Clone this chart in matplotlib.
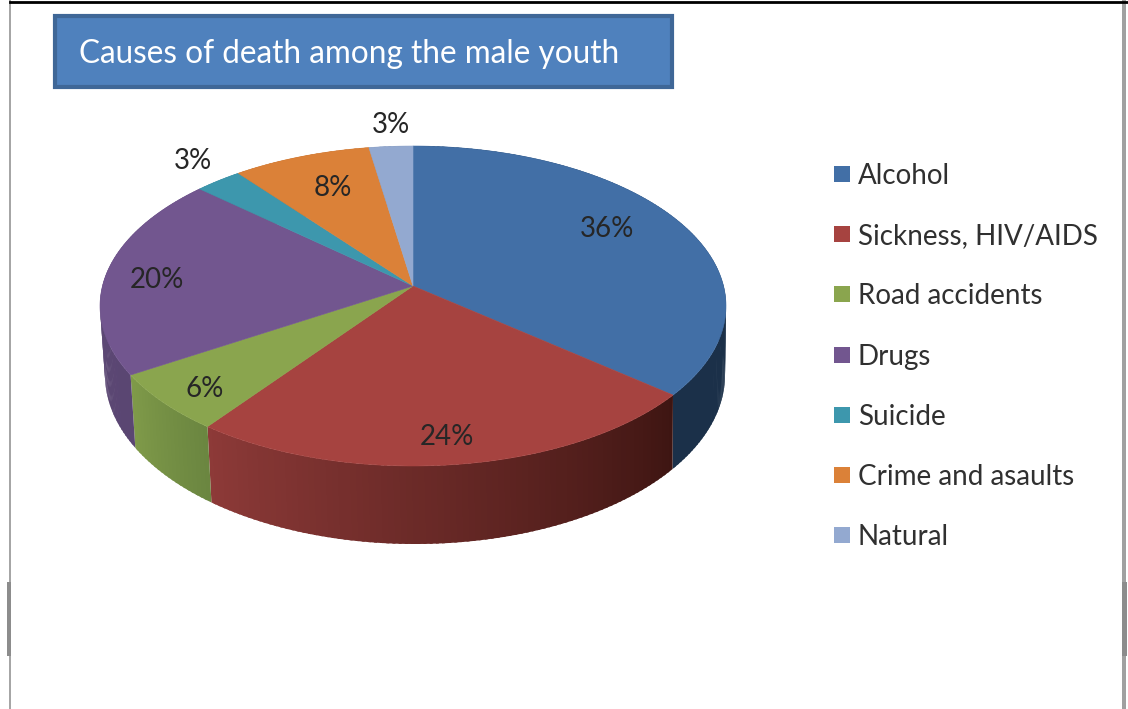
import numpy as np
import matplotlib.pyplot as plt
from matplotlib.colors import to_rgb
from matplotlib.patches import Polygon, Rectangle

plt.rcParams["font.family"] = ["Lato", "DejaVu Sans"]

categories = ["Alcohol", "Sickness, HIV/AIDS", "Road accidents", "Drugs", "Suicide", "Crime and asaults", "Natural"]
# shares, the labels show them rounded
values = [36.0, 24.15, 6.0, 20.49, 2.76, 8.05, 2.55]
top_colors = ["#426fa6", "#a64340", "#8aa54e", "#72568f", "#3d97ad", "#db8138", "#93a9d0"]
side_start = ["#1a2e46", "#3e1512", "#6b8640", "#5a4672", "#2f7587", "#a8622b", "#7082a0"]
side_end = ["#1b3049", "#8d3a38", "#7f9a49", "#5f4a78", "#2f7587", "#a8622b", "#7082a0"]
legend_y = [176, 236, 296, 357, 417, 477, 537]
label_pos = [(607, 229), (447, 437), (205, 389), (157, 280), (193, 161), (333, 188), (391, 125)]

FS = 20


def project(deg, cx, cy, rx, ry):
    # circle -> perspective ellipse, apex sits above the ellipse centre
    a = -0.125
    t = np.radians(deg)
    u = np.sin(t)
    v = -np.cos(t)
    d = 1 + a * v
    return cx + rx * u * np.sqrt(1 - a * a) / d, cy + ry * (v + a) / d


def top_edge(deg):
    return project(deg, 413, 306, 313, 160)


def bottom_edge(deg):
    return project(deg, 415, 375, 310, 169)


def mix(c1, c2, f):
    a = np.array(to_rgb(c1))
    b = np.array(to_rgb(c2))
    return tuple(a + (b - a) * f)


fig = plt.figure(figsize=(11.28, 7.09), dpi=100)
ax = fig.add_axes([0, 0, 1, 1])
ax.set_xlim(0, 1128)
ax.set_ylim(709, 0)
ax.axis("off")

# page frame
ax.add_patch(Rectangle((8.5, 0), 2.5, 709, fc="#a6a6a6", ec="none"))
ax.add_patch(Rectangle((7, 582), 4, 74, fc="#8c8c8c", ec="none"))
ax.add_patch(Rectangle((1122, 0), 3.5, 709, fc="#a0a0a0", ec="none"))
ax.add_patch(Rectangle((1122, 582), 5, 74, fc="#8c8c8c", ec="none"))
ax.plot([10, 1128], [2, 2], color="black", lw=2)

# title box
ax.add_patch(Rectangle((55, 16), 617, 71, fc="#4f81bd", ec="#3f6797", lw=3))
ax.text(79, 54, "Causes of death among the male youth", color="white", fontsize=22.7, va="center", ha="left")

# slices, walls first then the top face
edges = np.cumsum([0] + values) * 3.6
for i in range(len(values)):
    steps = np.linspace(edges[i], edges[i + 1], max(int(edges[i + 1] - edges[i]), 2) + 1)
    for k in range(len(steps) - 1):
        # a little overlap with the next strip so no seams show
        s = np.linspace(steps[k], min(steps[k + 1] + 0.5, edges[i + 1]), 4)
        tx, ty = top_edge(s)
        bx, by = bottom_edge(s)
        col = mix(side_start[i], side_end[i], (k + 0.5) / (len(steps) - 1))
        pts = np.column_stack([np.r_[tx, bx[::-1]], np.r_[ty, by[::-1]]])
        ax.add_patch(Polygon(pts, fc=col, ec="none", zorder=2))

for i in range(len(values)):
    s = np.linspace(edges[i], edges[i + 1], 120)
    tx, ty = top_edge(s)
    pts = np.column_stack([np.r_[413, tx], np.r_[286, ty]])
    ax.add_patch(Polygon(pts, fc=top_colors[i], ec=top_colors[i], lw=0.4, zorder=3))

for pos, v in zip(label_pos, values):
    ax.text(pos[0], pos[1], f"{v:.0f}%", fontsize=FS, color="#262626", ha="center", va="center", zorder=4)

# legend
for name, col, y in zip(categories, top_colors, legend_y):
    ax.add_patch(Rectangle((834, y - 10), 16, 16, fc=col, ec="none"))
    ax.text(858, y, name, fontsize=FS, color="#303030", ha="left", va="center")

fig.savefig("out.png", dpi=100)
